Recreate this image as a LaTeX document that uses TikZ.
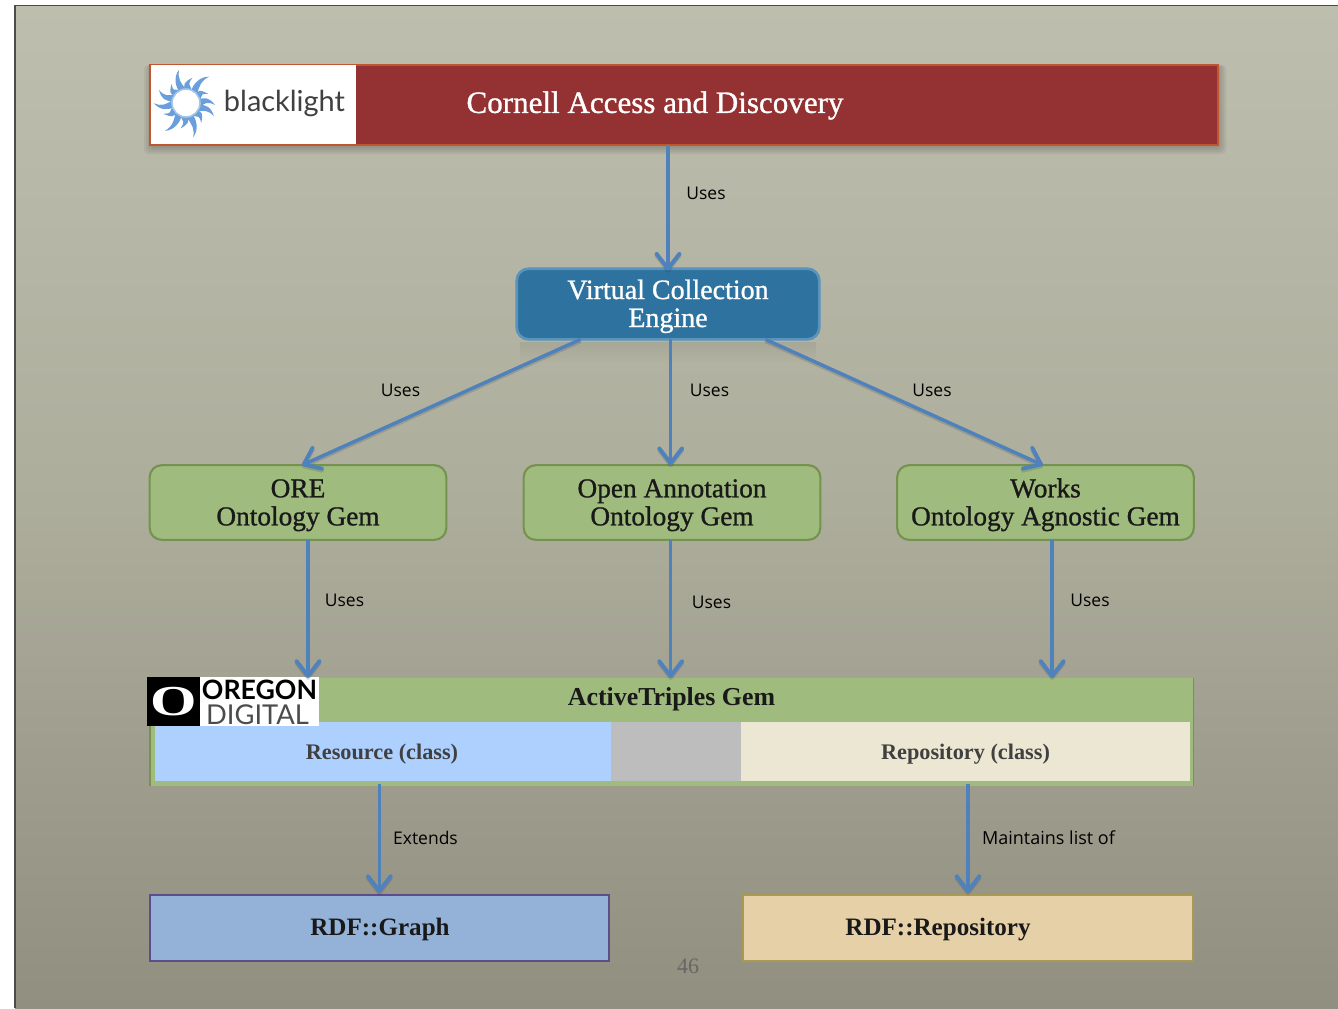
\documentclass[tikz,border=0pt]{standalone}
\usepackage{fontspec}
\setmainfont{Liberation Serif}
\newfontfamily\medserif{Liberation Serif}[FakeBold=1.0]
\newfontfamily\lblfont{Open Sans}
\newfontfamily\logofont{Lato}
\usetikzlibrary{arrows.meta,calc,fadings}
\definecolor{bgtop}{HTML}{BDBEAE}
\definecolor{bgmid}{HTML}{ADAD9C}
\definecolor{bgbot}{HTML}{918F80}
\definecolor{conn}{HTML}{4F81BD}
\definecolor{redfill}{HTML}{943132}
\definecolor{redline}{HTML}{C0562F}
\definecolor{bluefill}{HTML}{2E729F}
\definecolor{blueline}{HTML}{5A93BC}
\definecolor{greenfill}{HTML}{A0BB7E}
\definecolor{greenline}{HTML}{76924F}
\definecolor{resfill}{HTML}{AED0FF}
\definecolor{repofill}{HTML}{ECE7D3}
\definecolor{graphfill}{HTML}{94B2D8}
\definecolor{graphline}{HTML}{5D4D8D}
\definecolor{rrfill}{HTML}{E6D0A8}
\definecolor{rrline}{HTML}{A89A55}
\definecolor{sun}{HTML}{6A9FDB}
\tikzfading[name=fadedown,top color=transparent!94,bottom color=transparent!100]
\newcommand{\tline}[1]{\raisebox{-1.5pt}[.75em][.25em]{#1}}
\tikzset{
  x=0.75pt,y=-0.75pt,
  uses/.style={draw=conn,line width=2.6pt,
    -{Straight Barb[length=11pt,width=17pt,line width=3pt,round]},
    preaction={draw=black,opacity=.12,line width=2.6pt,transform canvas={yshift=-1.5pt}}},
  lbl/.style={font=\lblfont\fontsize{13.1}{16}\selectfont,text=black,inner sep=0pt},
  gembox/.style={draw=greenline,line width=1.6pt,fill=greenfill,rounded corners=9pt,outer sep=0pt,
    minimum width=222.5pt,minimum height=56pt,inner sep=0pt,align=center,text=black!90,
    font=\medserif\fontsize{20.5}{21}\selectfont},
  stripbox/.style={draw=none,inner sep=0pt,outer sep=0pt,anchor=north west},
  strong/.style={font=\bfseries\fontsize{18.8}{22}\selectfont,text=black!90,inner sep=0pt},
  classtxt/.style={font=\bfseries\fontsize{16.7}{20}\selectfont,text=black!75,inner sep=0pt},
}
\begin{document}
\begin{tikzpicture}
\useasboundingbox (0,0) rectangle (1338,1008);
% slide background
\fill[white] (0,0) rectangle (1338,1008);
\shade[top color=bgtop,bottom color=bgbot,middle color=bgmid] (15,5) rectangle (1338,1008);
\draw[black!70,line width=1pt] (15,1008) -- (15,5.5) -- (1338,5.5);

% header
\foreach \d in {2,4,6,8}{
  \fill[black,opacity=.05,rounded corners=3pt] (150-\d+2,65) rectangle (1218+\d,145+\d+1);
}
\node[stripbox,fill=redfill,draw=redline,line width=1.2pt,minimum width=801pt,minimum height=60pt] (red) at (150,65) {};
\node[stripbox,fill=white,minimum width=154.5pt,minimum height=60pt] (bl) at (150,64.5) {};
\draw[redline,line width=.9pt] (bl.north west) -- (bl.south west) -- (bl.south east);
\node[text=white,inner sep=0pt,font=\medserif\fontsize{23.3}{26}\selectfont] (cornell) at (655,105.5) {Cornell Access and Discovery};
% blacklight logo
\begin{scope}[shift={(186,103)}]
  \foreach \a/\r in {0/29,27/24,52/35,80/26,105/34,132/24,158/30,184/32,210/25,236/35,262/26,285/35,312/25,338/31}{
    \fill[sun,rotate=\a] (12,-3) .. controls (18,-6) and (\r-6,-6) .. (\r,2) .. controls (\r-8,-2) and (20,0) .. (13,4) -- cycle;
  }
  \draw[sun!60,line width=1.2pt,fill=white] (0,0) circle (14);
\end{scope}
\node[inner sep=0pt,text=black!75,font=\logofont\fontsize{21.7}{24}\selectfont] (bltext) at (284.5,103.5) {blacklight};

% virtual collection engine
\fill[black,path fading=fadedown] (520,342) rectangle (816,362);
\node[draw=blueline,line width=2pt,fill=bluefill,rounded corners=9pt,outer sep=0pt,minimum width=227pt,minimum height=53pt,inner sep=0pt,align=center,text=white,
  font=\medserif\fontsize{21}{21}\selectfont] (vce) at (668,304) {\tline{Virtual Collection}\\\tline{Engine}};

% ontology gems
\node[gembox] (ore) at (298,502.5) {\tline{ORE}\\\tline{Ontology Gem}};
\node[gembox] (oa) at (672,502.5) {\tline{Open Annotation}\\\tline{Ontology Gem}};
\node[gembox] (works) at (1045.5,502.5) {\tline{Works}\\\tline{Ontology Agnostic Gem}};

% active triples
\node[stripbox,fill=greenfill,minimum width=782.5pt,minimum height=81pt] (at) at (150,678) {};
\draw[greenline,line width=1.2pt] (at.north west) -- (at.south west) (at.north east) -- (at.south east);
\node[stripbox,fill=resfill,minimum width=342pt,minimum height=44.5pt] (res) at (155,722) {};
\node[stripbox,fill=black!26,minimum width=97.5pt,minimum height=44.5pt] (gap) at (611,722) {};
\node[stripbox,fill=repofill,minimum width=337pt,minimum height=44.5pt] (repo) at (741,722) {};
\node[inner sep=0pt,text=black!90,font=\bfseries\fontsize{19.4}{22}\selectfont] (attxt) at (671.5,699) {ActiveTriples Gem};
\node[classtxt] (restxt) at (382,754) {Resource (class)};
\node[classtxt] (repotxt) at (965.5,754) {Repository (class)};
% oregon digital logo
\node[stripbox,fill=black,minimum width=40pt,minimum height=37pt] (odblack) at (147,677) {};
\node[stripbox,fill=white,minimum width=89pt,minimum height=37pt] (odwhite) at (200,677) {};
\node[inner sep=0pt,text=white,font=\bfseries\fontsize{32}{32}\selectfont] (odo) at (173.5,702) {\scalebox{1.4}[1]{O}};
\node[inner sep=0pt,text=black,font=\logofont\bfseries\fontsize{20}{20}\selectfont] (odt1) at (259.5,690) {OREGON};
\node[inner sep=0pt,text=black!70,font=\logofont\fontsize{20.5}{20}\selectfont] (odt2) at (257.5,714.5) {DIGITAL};

% RDF boxes
\node[stripbox,draw=graphline,line width=1.5pt,fill=graphfill,minimum width=344pt,minimum height=49.5pt] (graph) at (150,895) {};
\node[stripbox,draw=rrline,line width=1.5pt,fill=rrfill,minimum width=337.5pt,minimum height=49.5pt] (rr) at (743,895) {};
\node[strong] (graphtxt) at (380,929) {RDF::Graph};
\node[strong] (rrtxt) at (938,929) {RDF::Repository};
\node[inner sep=0pt,text=black!60,font=\fontsize{16.5}{20}\selectfont] (pageno) at (688,966) {46};

% connectors
\draw[uses] (vce.north |- red.south) -- ([yshift=-1.5pt]vce.north);
\draw[uses] ([xshift=-65.5pt]vce.south) -- ([xshift=3pt]ore.north);
\draw[uses] ([xshift=-1pt]oa.north |- vce.south) -- ([xshift=-1pt]oa.north);
\draw[uses] ([xshift=73pt]vce.south) -- ([xshift=-2pt]works.north);
\draw[uses] ([xshift=7.5pt]ore.south) -- ([xshift=7.5pt]ore.south |- at.north);
\draw[uses] ([xshift=-1pt]oa.south) -- ([xshift=-1pt]oa.south |- at.north);
\draw[uses] ([xshift=5pt]works.south) -- ([xshift=5pt]works.south |- at.north);
\draw[uses] ([yshift=1.5pt]graph.north |- at.south) -- ([yshift=1.5pt]graph.north);
\draw[uses] ([yshift=1.5pt]rr.north |- at.south) -- ([yshift=1.5pt]rr.north);

% connector labels
\node[lbl] (l1) at (706,193) {Uses};
\node[lbl] (l2) at (400.5,390) {Uses};
\node[lbl] (l3) at (709.5,390) {Uses};
\node[lbl] (l4) at (932,390) {Uses};
\node[lbl] (l5) at (344.5,600) {Uses};
\node[lbl] (l6) at (711.5,602) {Uses};
\node[lbl] (l7) at (1090,600) {Uses};
\node[lbl] (l8) at (425.5,838) {Extends};
\node[lbl,font=\lblfont\fontsize{13.5}{16}\selectfont] (l9) at (1048.5,838) {Maintains list of};
\end{tikzpicture}
\end{document}
